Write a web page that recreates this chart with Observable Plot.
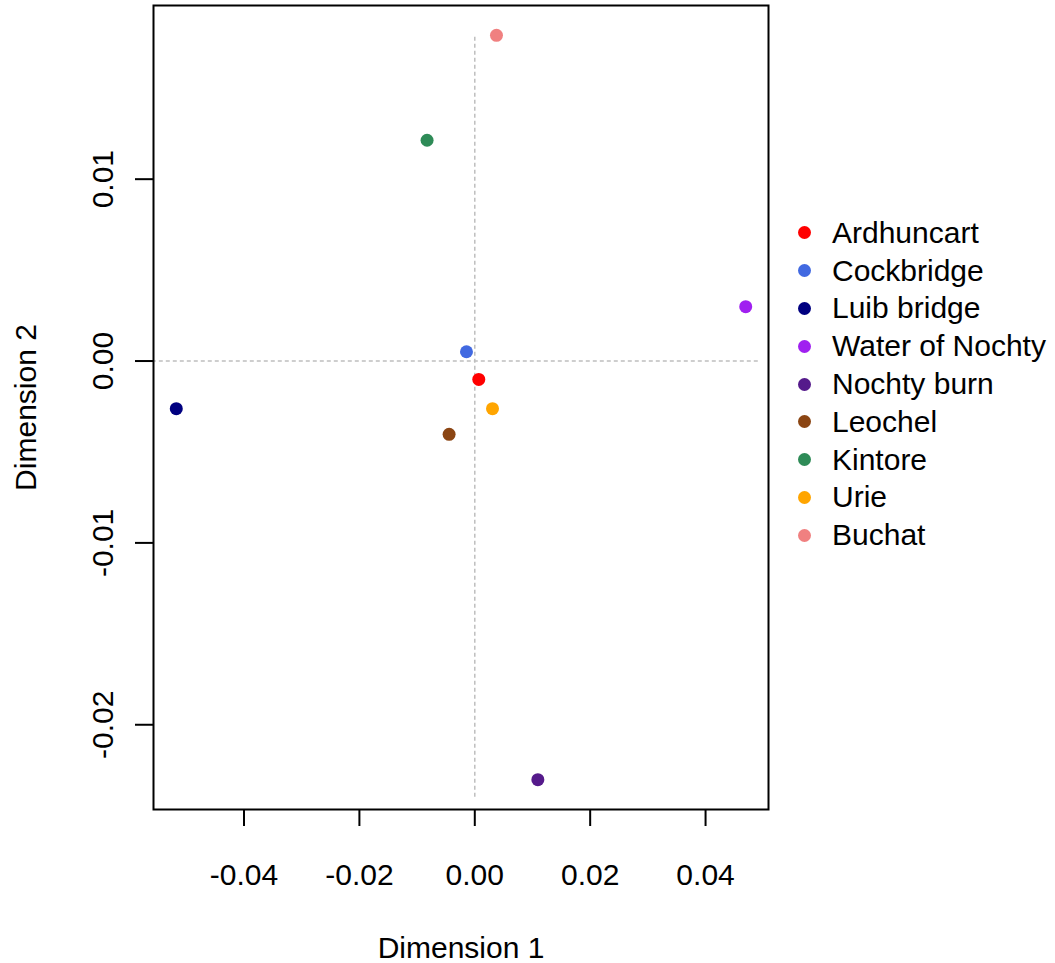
<!DOCTYPE html>
<html><head><meta charset="utf-8">
<script src="https://cdn.jsdelivr.net/npm/d3@7"></script>
<script src="https://cdn.jsdelivr.net/npm/@observablehq/plot@0.6"></script>
<style>
body{margin:0;background:#fff;font-family:"Liberation Sans",Arial,sans-serif;}
#wrap{position:relative;width:1055px;height:963px;}
#legend{position:absolute;left:798px;top:214px;font-size:30px;color:#000;}
.item{display:flex;align-items:center;height:37.8px;white-space:nowrap;}
.sw{width:13px;height:13px;border-radius:50%;margin-right:21px;flex:none;}
</style>
</head><body>
<div id="wrap"></div>
<script>
const sites = ["Ardhuncart","Cockbridge","Luib bridge","Water of Nochty","Nochty burn","Leochel","Kintore","Urie","Buchat"];
const dim1 = [0.00069,-0.00144,-0.05174,0.04696,0.01093,-0.00445,-0.00827,0.00307,0.00376];
const dim2 = [-0.00101,0.00051,-0.00262,0.00299,-0.02302,-0.00403,0.01214,-0.00262,0.01791];
const colors = ["#FF0000","#4169E1","#000080","#A020F0","#551A8B","#8B4513","#2E8B57","#FFA500","#F08080"];
const xTicks = [-0.04,-0.02,0,0.02,0.04];
const yTicks = [-0.02,-0.01,0,0.01];
const xDomain = [-0.05569,0.05091];
const yDomain = [-0.02466,0.01955];
const vLineY = [0.0178,-0.0240];
const hLineX = [-0.0559,0.0494];

const data = sites.map((s,i)=>({site:s,d1:dim1[i],d2:dim2[i]}));
const fmt = d => d.toFixed(2);
const font = '"Liberation Sans",Arial,sans-serif';

const chart = Plot.plot({
  width:1055, height:963,
  marginLeft:153, marginRight:287, marginTop:5, marginBottom:154,
  style:{fontFamily:font, fontSize:"30px", color:"#000", background:"#fff"},
  x:{domain:xDomain},
  y:{domain:yDomain},
  color:{domain:sites, range:colors},
  marks:[
    Plot.ruleX([0],{x:d=>d, y1:vLineY[0], y2:vLineY[1], stroke:"#bebebe", strokeWidth:1.5, strokeDasharray:"4,3"}),
    Plot.ruleY([0],{y:d=>d, x1:hLineX[0], x2:hLineX[1], stroke:"#bebebe", strokeWidth:1.5, strokeDasharray:"4,3"}),
    Plot.dot(data,{x:"d1", y:"d2", fill:"site", r:6.5}),
    Plot.frame({stroke:"#000", strokeWidth:2}),
    Plot.axisX({ticks:xTicks, tickFormat:fmt, tickSize:17, tickPadding:37, strokeWidth:2,
      fontSize:30, label:"Dimension 1", labelAnchor:"center", labelOffset:148, labelArrow:"none"}),
    Plot.axisY({ticks:yTicks, tickFormat:fmt, tickSize:18, tickPadding:23, tickRotate:-90, strokeWidth:2,
      fontSize:30, label:"Dimension 2", labelAnchor:"center", labelOffset:139, labelArrow:"none"})
  ]
});
const wrap = document.getElementById("wrap");
wrap.appendChild(chart);
const legend = document.createElement("div");
legend.id = "legend";
sites.forEach((s,i)=>{
  const it = document.createElement("div"); it.className="item";
  const sw = document.createElement("span"); sw.className="sw"; sw.style.background=colors[i];
  const tx = document.createElement("span"); tx.textContent = s;
  it.appendChild(sw); it.appendChild(tx); legend.appendChild(it);
});
wrap.appendChild(legend);
</script>
</body></html>
